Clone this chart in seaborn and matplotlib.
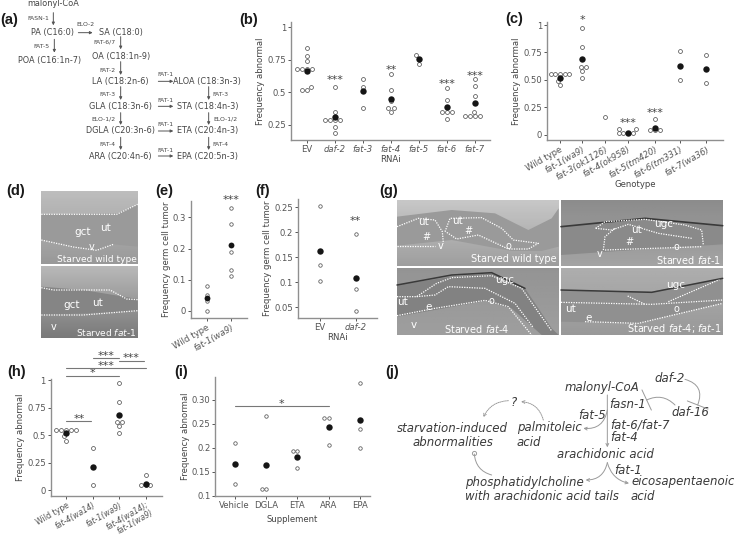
import numpy as np
import pandas as pd
import matplotlib
matplotlib.use("Agg")
import matplotlib.pyplot as plt
import seaborn as sns

sns.set_theme(style="ticks")
plt.rcParams.update({"font.family": ["DejaVu Sans"], "mathtext.fontset": "dejavusans",
                     "axes.edgecolor": "#8f8f8f", "text.color": "#444444",
                     "axes.labelcolor": "#444444", "xtick.color": "#555555", "ytick.color": "#555555"})

# ---- data -----
b_labels = ["EV", "daf-2", "fat-3", "fat-4", "fat-5", "fat-6", "fat-7"]
b_values = [[.84, .78, .74, .68, .68, .68, .68, .54, .52, .52],
            [.54, .35, .29, .29, .29, .29, .235, .185],
            [.60, .54, .38],
            [.64, .52, .43, .38, .38, .35],
            [.785, .755, .715],
            [.53, .44, .345, .345, .345, .295],
            [.60, .55, .47, .35, .315, .315, .315, .315]]
b_means = [.665, .31, .51, .45, .755, .385, .415]

c_labels = ["Wild type", "fat-1(wa9)", "fat-3(ok1126)", "fat-4(ok958)", "fat-5(tm420)", "fat-6(tm331)", "fat-7(wa36)"]
c_values = [[.55, .55, .55, .55, .55, .49, .45],
            [.97, .80, .62, .62, .58, .52],
            [.16],
            [.05, .05, .015, .015, .015, .015],
            [.14, .045, .045, .045],
            [.76, .50],
            [.73, .47]]
c_means = [.52, .69, np.nan, .02, .06, .63, .60]
c_slots = [0, .924, 1.84, 2.79, 3.9, 4.91, 6.0]

e_labels = ["Wild type", "fat-1(wa9)"]
e_values = [[.08, .05, .03, 0], [.33, .28, .19, .13, .11]]
e_means = [.04, .21]

f_labels = ["EV", "daf-2"]
f_values = [[.253, .135, .102], [.197, .087, .042]]
f_means = [.163, .109]

h_labels = ["Wild type", "fat-4(wa14)", "fat-1(wa9)", "fat-4(wa14);\nfat-1(wa9)"]
h_values = [[.55, .55, .55, .55, .55, .49, .45],
            [.38, .05],
            [.97, .80, .62, .62, .58, .52],
            [.135, .045, .045, .045]]
h_means = [.52, .21, .685, .06]

i_labels = ["Vehicle", "DGLA", "ETA", "ARA", "EPA"]
i_values = [[.209, .124], [.267, .114, .114], [.193, .193, .158], [.262, .262, .206], [.334, .239, .20]]
i_means = [.167, .165, .181, .243, .257]

W, H = 734, 542
fig = plt.figure(figsize=(W / 100, H / 100), dpi=100, facecolor="white")
ov = fig.add_axes([0, 0, 1, 1], zorder=0)
ov.set_axis_off()


def panel_axes(l, t, r, b):
    ax = fig.add_axes([l / W, 1 - b / H, (r - l) / W, (b - t) / H], zorder=2)
    ax.patch.set_alpha(0)
    return ax


def dots(ax, labels, values, means, xlim, ylim, yticks, yticklabels, ylabel, xlabel,
         size=2.8, msize=4.6, fs=6.1, slots=None):
    if slots is None:
        rows = [(l, v) for l, vs in zip(labels, values) for v in vs]
        df = pd.DataFrame(rows, columns=["group", "value"])
        mdf = pd.DataFrame({"group": labels, "value": means})
        kw = dict(order=labels)
    else:
        rows = [(s, v) for s, vs in zip(slots, values) for v in vs]
        df = pd.DataFrame(rows, columns=["group", "value"])
        mdf = pd.DataFrame({"group": slots, "value": means})
        kw = dict(native_scale=True)
    sns.swarmplot(data=df, x="group", y="value", ax=ax, size=size,
                  color="white", edgecolor="#555555", linewidth=0.55, zorder=3, **kw)
    sns.stripplot(data=mdf, x="group", y="value", ax=ax, jitter=False,
                  size=msize, color="#151515", linewidth=0, zorder=4, **kw)
    if slots is not None:
        ax.set_xticks(slots)
        ax.set_xticklabels(labels)
    ax.set_xlim(*xlim)
    ax.set_ylim(*ylim)
    ax.set_yticks(yticks)
    ax.set_yticklabels(yticklabels, fontsize=fs)
    ax.set_ylabel(ylabel, fontsize=fs, labelpad=1.5)
    ax.set_xlabel(xlabel, fontsize=fs, labelpad=0.5)
    ax.tick_params(axis="both", length=2, width=0.7, pad=1.5, labelsize=fs)
    sns.despine(ax=ax)
    for s in ("left", "bottom"):
        ax.spines[s].set_linewidth(1.0)


def italicise(ax, keep=("EV", "Wild type", "Vehicle", "DGLA", "ETA", "ARA", "EPA")):
    for t in ax.get_xticklabels():
        if t.get_text() not in keep:
            t.set_fontstyle("italic")


def rotate(ax, rot=30, fs=6.1):
    for t in ax.get_xticklabels():
        t.set(rotation=rot, ha="right", rotation_mode="anchor", fontsize=fs)


def stars(ax, x, y, s):
    ax.text(x, y, s, ha="center", va="center", fontsize=8, color="#444444", clip_on=False, zorder=5)


# ---- (b) -----
axb = panel_axes(291, 22, 490, 140)
dots(axb, b_labels, b_values, b_means, (-.57, 6.54), (.133, 1.04), [.25, .5, .75, 1],
     ["0.25", "0.5", "0.75", "1"], "Frequency abnormal", "RNAi")
italicise(axb)
for x, y, s in [(1, .595, "***"), (3, .67, "**"), (5, .565, "***"), (6, .625, "***")]:
    stars(axb, x, y, s)

# ---- (c) -----
axc = panel_axes(547, 22, 723, 140)
dots(axc, c_labels, c_values, c_means, (-.52, 6.68), (-.048, 1.028), [0, .25, .5, .75, 1],
     ["0", "0.25", "0.50", "0.75", "1"], "Frequency abnormal", "Genotype", slots=c_slots)
italicise(axc)
rotate(axc)
axc.xaxis.labelpad = -1.5
for x, y, s in [(c_slots[1], 1.045, "*"), (c_slots[3], .105, "***"), (c_slots[4], .2, "***")]:
    stars(axc, x, y, s)

# ---- (e) -----
axe = panel_axes(191, 201, 247, 318)
dots(axe, e_labels, e_values, e_means, (-.646, 1.66), (-.0237, .353), [0, .1, .2, .3],
     ["0", "0.1", "0.2", "0.3"], "Frequency germ cell tumor", "", size=2.5, msize=4.2)
italicise(axe)
rotate(axe)
stars(axe, 1, .355, "***")

# ---- (f) -----
axf = panel_axes(298, 199, 377, 318)
dots(axf, f_labels, f_values, f_means, (-.62, 1.6), (.0287, .2666), [.05, .1, .15, .2, .25],
     ["0.05", "0.1", "0.15", "0.2", "0.25"], "Frequency germ cell tumor", "RNAi", size=2.5, msize=4.6)
italicise(axf)
stars(axf, 1, .222, "**")

# ---- (h) -----
axh = panel_axes(50.7, 379, 161.7, 495.7)
dots(axh, h_labels, h_values, h_means, (-.577, 3.61), (-.05, 1.01), [0, .25, .5, .75, 1],
     ["0", "0.25", "0.5", "0.75", "1"], "Frequency abnormal", "")
italicise(axh)
rotate(axh, fs=5.6)
for t in axh.get_xticklabels():
    t.set_linespacing(1.0)
for x0, x1, y, xs, s in [(0, 2, 1.04, 1, "*"), (0, 3, 1.109, 1.5, "***"), (1, 2, 1.20, 1.5, "***"),
                         (2, 2.95, 1.177, 2.45, "***"), (0, .96, .627, .5, "**")]:
    axh.plot([x0, x1], [y, y], color="#777777", lw=0.8, clip_on=False, zorder=5)
    stars(axh, xs, y + .02, s)

# ---- (i) -----
axi = panel_axes(215.3, 376.7, 370, 495.7)
dots(axi, i_labels, i_values, i_means, (-.62, 4.32), (.1, .348), [.1, .15, .2, .25, .3],
     ["0.1", "0.15", "0.2", "0.25", "0.30"], "Frequency abnormal", "Supplement", size=2.5, msize=4.6)
axi.xaxis.labelpad = 4
axi.plot([0, 3], [.286, .286], color="#777777", lw=0.8, zorder=2)
stars(axi, 1.5, .292, "*")


# ---- schematic helpers, pixel coordinates of the overlay -----
def txt(x, y, s, fs=6.3, ha="center", color="#444444", **kw):
    ov.text(x, y, s, fontsize=fs, ha=ha, va="center", color=color, **kw)


def arr(p0, p1, color="#555555", lw=0.7, style="-|>", rad=0, ls="-", ms=4):
    ov.annotate("", xy=p1, xytext=p0, xycoords="data", textcoords="data",
                arrowprops=dict(arrowstyle=style, color=color, lw=lw, shrinkA=0, shrinkB=0,
                                linestyle=ls, mutation_scale=ms,
                                connectionstyle=f"arc3,rad={rad}"))


# ---- panel labels -----
for x, y, s in [(9.5, 20, "(a)"), (249, 20, "(b)"), (514, 19, "(c)"), (16, 191, "(d)"), (164, 191, "(e)"),
                (263, 191, "(f)"), (389, 191, "(g)"), (17, 372, "(h)"), (181, 372, "(i)"), (392, 372, "(j)")]:
    ov.text(x, y, s, fontsize=10.5, fontweight="bold", family="Liberation Sans", ha="center", va="center", color="#1a1a1a")

# ---- (a) -----
a = lambda x, y: (x / 3, y / 3)
for x, y, s in [(160, 12, "malonyl-CoA"), (157, 97, "PA (C16:0)"), (363, 96, "SA (C18:0)"), (150, 180, "POA (C16:1n-7)"),
                (362, 170, "OA (C18:1n-9)"), (362, 244, "LA (C18:2n-6)"), (620, 244, "ALOA (C18:3n-3)"),
                (362, 319, "GLA (C18:3n-6)"), (623, 319, "STA (C18:4n-3)"), (362, 393, "DGLA (C20:3n-6)"),
                (623, 393, "ETA (C20:4n-3)"), (362, 468, "ARA (C20:4n-6)"), (623, 468, "EPA (C20:5n-3)")]:
    txt(*a(x, y), s, fs=5.9)
for x, y, s in [(115, 55, "FASN-1"), (255, 74, "ELO-2"), (123, 138, "FAT-5"), (312, 126, "FAT-6/7"), (323, 210, "FAT-2"),
                (495, 225, "FAT-1"), (323, 282, "FAT-3"), (495, 301, "FAT-1"), (662, 282, "FAT-3"), (310, 356, "ELO-1/2"),
                (495, 375, "FAT-1"), (675, 356, "ELO-1/2"), (323, 433, "FAT-4"), (495, 451, "FAT-1"), (662, 433, "FAT-4")]:
    txt(*a(x, y), s, fs=4.4)
for x, y0, y1 in [(160, 38, 76), (163, 118, 158), (362, 110, 148), (362, 185, 225), (362, 260, 300), (362, 338, 375),
                  (362, 412, 450), (626, 260, 300), (626, 338, 375), (626, 412, 450)]:
    arr(a(x, y0), a(x, y1))
for x0, x1, y in [(235, 278, 98), (475, 520, 244), (475, 520, 319), (475, 520, 393), (475, 520, 468)]:
    arr(a(x0, y), a(x1, y))


# ---- micrographs -----
def micro(x0, y0, x1, y1, shade, upper, lower, band="#8e8e8e", zf=None):
    """grey field with a worm body between two outlines given in zoom coordinates"""
    grad = np.linspace(shade[0], shade[1], 32).reshape(-1, 1)
    ov.imshow(grad, extent=(x0, x1, y1, y0), cmap="gray", vmin=0, vmax=1, aspect="auto", zorder=0.5)
    ux, uy = zip(*[zf(*p) for p in upper])
    lx, ly = zip(*[zf(*p) for p in lower])
    ov.fill(list(ux) + list(lx[::-1]), list(uy) + list(ly[::-1]), color=band, lw=0, zorder=0.6)


def dotted(zf, pts, lw=0.9):
    x, y = zip(*[zf(*p) for p in pts])
    ov.plot(x, y, color="white", lw=lw, ls=(0, (1, 1)), zorder=1)


def white(zf, x, y, s, fs=7.5, ha="center"):
    px, py = zf(x, y)
    ov.text(px, py, s, fontsize=fs, ha=ha, va="center", color="white", zorder=1.2)


d = lambda x, y: (x / 3, 175 + y / 3)
g = lambda x, y: (385 + x / 3, 175 + y / 3)

# (d)
micro(41.3, 191.7, 137.7, 264, (.74, .6), [(124, 118), (350, 115), (413, 88)], [(124, 195), (220, 218), (290, 228), (340, 208), (413, 215)], band="#9a9a9a", zf=d)
dotted(d, [(124, 118), (350, 118), (413, 88)])
dotted(d, [(124, 195), (220, 216), (290, 226), (340, 208)])
white(d, 247, 171, "gct"); white(d, 317, 158, "ut"); white(d, 275, 217, "v", fs=7)
white(d, 410, 253, "Starved wild type", fs=6.5, ha="right")
micro(41.3, 266, 137.7, 338, (.72, .48), [(124, 335), (250, 345), (413, 372)], [(124, 420), (413, 408)], band="#858585", zf=d)
dotted(d, [(124, 338), (160, 345), (330, 345), (380, 372), (413, 374)])
dotted(d, [(124, 420), (250, 420), (413, 407)])
white(d, 214, 391, "gct"); white(d, 293, 385, "ut"); white(d, 160, 455, "v", fs=7)
white(d, 410, 471, r"Starved $\mathit{fat}$-$\mathit{1}$", fs=6.5, ha="right")

# (g)
micro(397, 200, 558.7, 265.7, (.78, .62), [(36, 125), (200, 105), (330, 115), (430, 165), (500, 130), (521, 100)],
      [(36, 212), (200, 195), (380, 228), (470, 228), (521, 215)], band="#9a9a9a", zf=g)
dotted(g, [(36, 155), (100, 130), (150, 135), (172, 170), (175, 205)])
dotted(g, [(180, 170), (195, 130), (290, 128), (350, 160), (385, 195), (460, 205), (430, 222), (370, 222), (280, 180), (215, 192), (182, 170)])
dotted(g, [(36, 212), (150, 212)])
white(g, 115, 142, "ut"); white(g, 218, 138, "ut"); white(g, 125, 185, "#", fs=7); white(g, 250, 168, "#", fs=7)
white(g, 167, 212, "v", fs=7); white(g, 371, 214, "o", fs=7)
white(g, 516, 253, "Starved wild type", fs=7, ha="right")

micro(561, 200, 722.7, 265.7, (.55, .64), [(528, 155), (780, 130), (1013, 152)], [(528, 240), (700, 228), (1013, 208)], band="#8a8a8a", zf=g)
ov.plot(*zip(*[g(528, 155), g(780, 130), g(1013, 152)]), color="#3a3a3a", lw=1.2, zorder=0.8)
dotted(g, [(632, 160), (660, 140), (780, 133), (900, 150), (950, 165), (955, 210)])
dotted(g, [(632, 160), (680, 165), (730, 148), (820, 175), (920, 190)])
dotted(g, [(655, 225), (660, 185), (690, 160)])
dotted(g, [(660, 225), (950, 215)])
white(g, 755, 166, "ut"); white(g, 836, 148, "ugc"); white(g, 733, 202, "#", fs=7); white(g, 643, 236, "v", fs=7); white(g, 875, 216, "o", fs=7)
white(g, 1008, 256, r"Starved $\mathit{fat}$-$\mathit{1}$", fs=7, ha="right")

micro(397, 268.3, 558.7, 335, (.58, .62), [(36, 330), (200, 305), (320, 295), (420, 340), (500, 460), (521, 480)],
      [(36, 425), (300, 378), (380, 400), (470, 480)], band="#828282", zf=g)
ov.plot(*zip(*[g(36, 330), g(200, 300), g(320, 293), g(420, 340)]), color="#3a3a3a", lw=1.1, zorder=0.8)
dotted(g, [(36, 365), (95, 365), (155, 325), (200, 308), (320, 302), (410, 340), (500, 468)])
dotted(g, [(95, 365), (150, 360), (190, 335), (300, 340), (390, 385), (445, 458)])
dotted(g, [(36, 422), (150, 400), (300, 376), (370, 395), (440, 480)])
white(g, 52, 381, "ut"); white(g, 131, 397, "e", fs=7.5); white(g, 85, 449, "v"); white(g, 320, 378, "o", fs=7); white(g, 358, 315, "ugc")
white(g, 275, 462, r"Starved $\mathit{fat}$-$\mathit{4}$", fs=7)

micro(561, 268.3, 722.7, 335, (.68, .6), [(528, 345), (800, 350), (1013, 310)], [(528, 440), (760, 445), (1013, 385)], band="#909090", zf=g)
ov.plot(*zip(*[g(528, 345), g(800, 352), g(1013, 310)]), color="#3a3a3a", lw=1.1, zorder=0.8)
dotted(g, [(528, 382), (800, 388), (1013, 375)])
dotted(g, [(728, 363), (780, 388)])
dotted(g, [(850, 380), (1003, 314)])
dotted(g, [(600, 440), (760, 445), (1013, 385)])
white(g, 557, 401, "ut"); white(g, 610, 430, "e"); white(g, 875, 403, "o", fs=7); white(g, 872, 331, "ugc")
white(g, 1008, 460, r"Starved $\mathit{fat}$-$\mathit{4}$; $\mathit{fat}$-$\mathit{1}$", fs=7, ha="right")

# ---- (j) -----
j = lambda x, y: (375 + x / 3, 340 + y / 3)
for x, y, s, ha in [(680, 144, "malonyl-CoA", "center"), (885, 115, "daf-2", "center"), (757, 193, "fasn-1", "center"),
                    (415, 186, "?", "center"), (650, 226, "fat-5", "center"), (947, 217, "daf-16", "center"),
                    (233, 264, "starvation-induced", "center"), (233, 308, "abnormalities", "center"),
                    (522, 262, "palmitoleic", "center"), (425, 306, "acid", "left"), (707, 254, "fat-6/fat-7", "left"),
                    (707, 292, "fat-4", "left"), (690, 343, "arachidonic acid", "center"), (760, 390, "fat-1", "center"),
                    (270, 427, "phosphatidylcholine", "left"), (270, 471, "with arachidonic acid tails", "left"),
                    (768, 426, "eicosapentaenoic", "left"), (768, 470, "acid", "left")]:
    txt(*j(x, y), s, fs=8.5, ha=ha, color="#3a3a3a", style="italic")
grey = "#9a9a9a"
arr(j(697, 165), j(697, 322), color=grey, style="->", ms=5)
arr(j(697, 210), j(625, 265), color=grey, style="->", rad=-.45, ms=5)
arr(j(697, 368), j(632, 420), color=grey, style="->", rad=-.4, ms=5)
arr(j(697, 368), j(762, 430), color=grey, style="->", rad=.3, ms=5)
arr(j(505, 240), j(438, 185), color=grey, style="->", rad=.35, ls=(0, (1, 1)), ms=5)
arr(j(400, 182), j(325, 232), color=grey, style="->", rad=.3, ls=(0, (1, 1)), ms=5)
arr(j(350, 405), j(298, 342), color=grey, style="-", rad=-.35)
ov.plot(*j(298, 338), marker="o", ms=3, mfc="white", mec=grey, mew=0.7, zorder=2)
arr(j(930, 118), j(968, 195), color=grey, style="-[,widthB=2,lengthB=0", rad=-.55)
arr(j(900, 195), j(815, 180), color=grey, style="-[,widthB=2,lengthB=0", rad=.35)

ov.set_xlim(0, W)
ov.set_ylim(H, 0)
fig.savefig("out.png", dpi=100)
